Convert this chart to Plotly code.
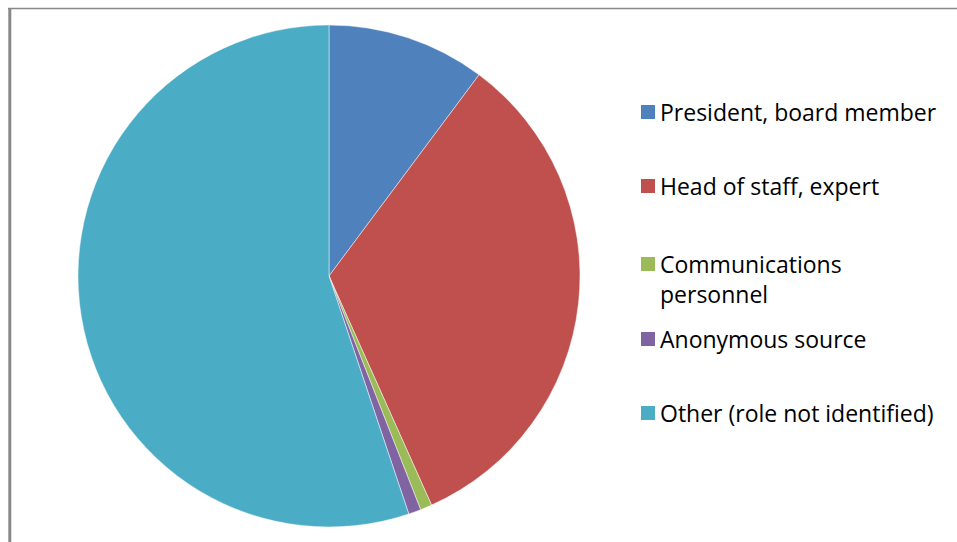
import plotly.graph_objects as go

labels = ["President, board member", "Head of staff, expert",
          "Communications personnel", "Anonymous source",
          "Other (role not identified)"]
legend_text = ["President, board member", "Head of staff, expert",
               "Communications<br>personnel", "Anonymous source",
               "Other (role not identified)"]
values = [10.2, 33.1, 0.75, 0.8, 55.15]
colors = ["#4F81BD", "#C0504D", "#9BBB59", "#8064A2", "#4BACC6"]

W, H = 957, 542

def px(x):
    return x / W

def py(y):
    return 1 - y / H

cx, cy, r = 329, 276, 251

fig = go.Figure(go.Pie(
    labels=labels, values=values, sort=False, direction="clockwise",
    rotation=0, textinfo="none", hoverinfo="label+percent",
    marker=dict(colors=colors, line=dict(color="rgba(255,255,255,0.6)", width=0.8)),
    domain=dict(x=[px(cx - r), px(cx + r)], y=[py(cy + r), py(cy - r)]),
    showlegend=False,
))

legend_y = [112, 186, 279, 339, 413]
shapes = [
    dict(type="line", xref="paper", yref="paper", x0=px(8), x1=1, y0=py(8.5), y1=py(8.5),
         line=dict(color="#888888", width=1.5)),
    dict(type="line", xref="paper", yref="paper", x0=px(9.8), x1=px(9.8), y0=py(8), y1=0,
         line=dict(color="#888888", width=3)),
]
annotations = []
for i, (t, c) in enumerate(zip(legend_text, colors)):
    yc = legend_y[i]
    sq_y = yc if i != 2 else 264
    shapes.append(dict(type="rect", xref="paper", yref="paper",
                       x0=px(641), x1=px(655), y0=py(sq_y + 7), y1=py(sq_y - 7),
                       fillcolor=c, line=dict(width=0)))
    annotations.append(dict(xref="paper", yref="paper", x=px(658), y=py(yc),
                            xanchor="left", yanchor="middle", align="left",
                            text=t, showarrow=False,
                            font=dict(family="Open Sans", size=23, color="#000000")))

fig.update_layout(
    width=W, height=H, margin=dict(l=0, r=0, t=0, b=0),
    paper_bgcolor="white", plot_bgcolor="white",
    shapes=shapes, annotations=annotations,
)

fig.write_html("out.html")
